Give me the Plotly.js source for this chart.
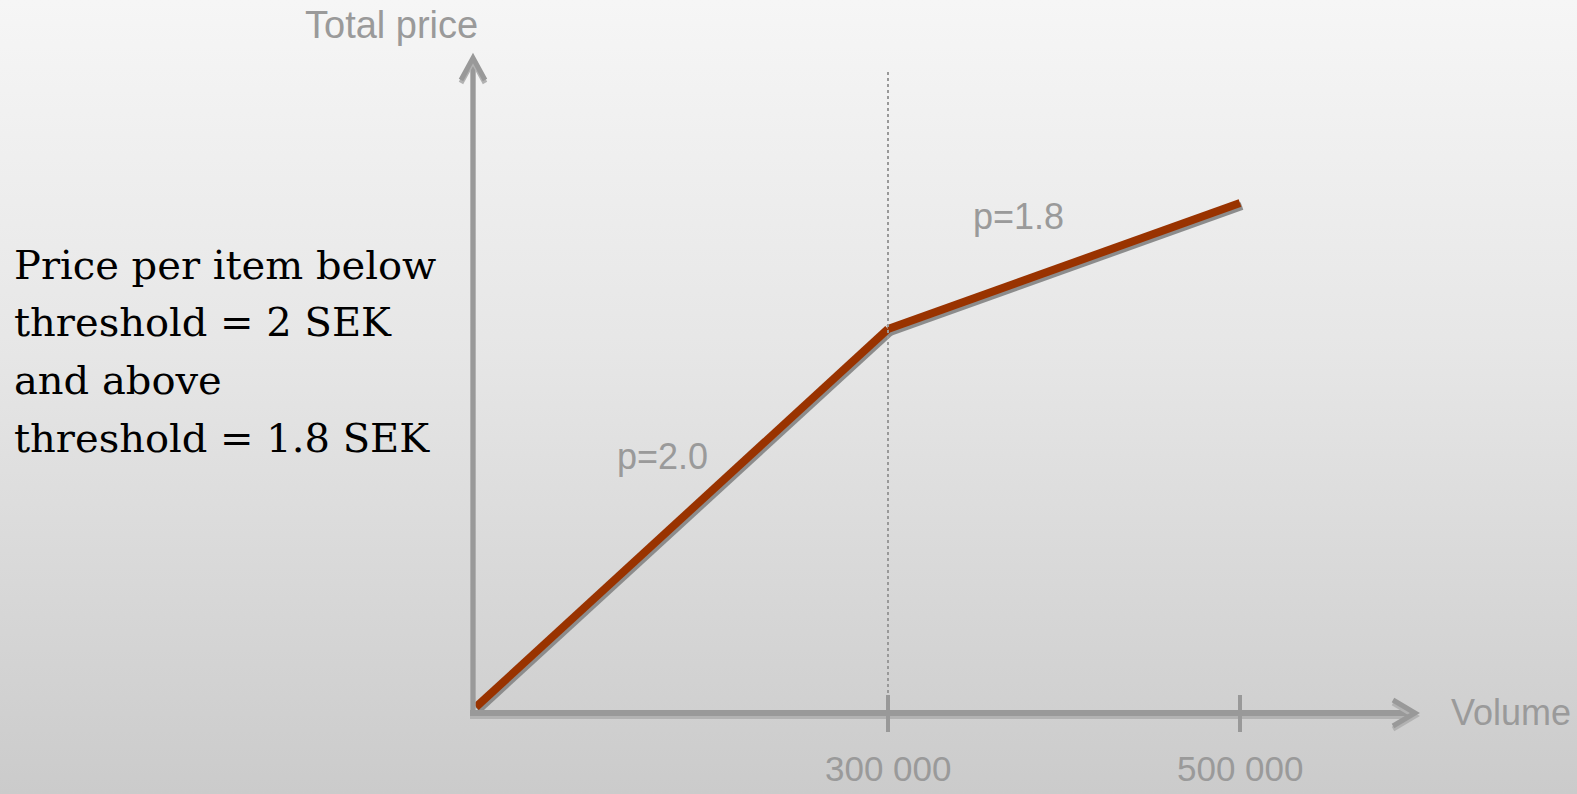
<!DOCTYPE html>
<html>
<head>
<meta charset="utf-8">
<script src="https://cdn.plot.ly/plotly-3.0.1.min.js"></script>
<style>
  html, body { margin: 0; padding: 0; }
  body {
    width: 1577px; height: 794px; overflow: hidden;
    background: linear-gradient(to bottom, #f6f6f6 0%, #e6e6e6 45%, #cbcbcb 100%);
  }
  #chart { width: 1577px; height: 794px; }
</style>
</head>
<body>
<div id="chart"></div>
<script>
// Volume-discount pricing: total price as a function of ordered volume.
const volume = [0, 300000, 500000];          // items
const totalPrice = [0, 600000, 960000];      // SEK
const unitPrice = [2.0, 1.8];                // SEK per item on each segment
const tickLabels = ['300 000', '500 000'];
const noteLines = [
  'Price per item below',
  'threshold = 2 SEK',
  'and above',
  'threshold = 1.8 SEK'
];

const W = 1577, H = 794;
const GRAY = '#999999';
const px = x => x / W;
const py = y => 1 - y / H;

// Each price segment gets its own axis pair so the two legs can be laid
// out with independent spacing (schematic, not to scale).
function xPiece(a0, a1, v0, v1, pad) {
  const k = (v1 - v0) / (a1 - a0);
  return { domain: [(a0 - pad) / W, (a1 + pad) / W], range: [v0 - pad * k, v1 + pad * k] };
}
function yPiece(a0, a1, v0, v1, pad) {
  const k = (v1 - v0) / (a0 - a1);
  return { domain: [1 - (a0 + pad) / H, 1 - (a1 - pad) / H], range: [v0 - pad * k, v1 + pad * k] };
}
const X1 = xPiece(476, 888, volume[0], volume[1], 14);
const X2 = xPiece(888, 1240, volume[1], volume[2], 14);
const Y1 = yPiece(707, 329, totalPrice[0], totalPrice[1], 14);
const Y2 = yPiece(329, 203, totalPrice[1], totalPrice[2], 14);

const hidden = { visible: false, fixedrange: true };

const lineStyle = { color: '#993300', width: 8 };
const traces = [
  { x: volume.slice(0, 2), y: totalPrice.slice(0, 2), xaxis: 'x', yaxis: 'y',
    mode: 'lines', line: lineStyle, hoverinfo: 'skip', showlegend: false },
  { x: volume.slice(1, 3), y: totalPrice.slice(1, 3), xaxis: 'x2', yaxis: 'y2',
    mode: 'lines', line: lineStyle, hoverinfo: 'skip', showlegend: false }
];

function pathPaper(points) {
  return points.map((p, i) => (i ? 'L ' : 'M ') + px(p[0]) + ' ' + py(p[1])).join(' ');
}

const shapes = [
  // vertical axis with arrow
  { type: 'line', xref: 'paper', yref: 'paper', x0: px(473), x1: px(473), y0: py(716), y1: py(60),
    line: { color: GRAY, width: 5 } },
  { type: 'path', xref: 'paper', yref: 'paper', path: pathPaper([[461, 80], [473, 58], [485, 80]]),
    line: { color: GRAY, width: 5 } },
  // horizontal axis with arrow
  { type: 'line', xref: 'paper', yref: 'paper', x0: px(470), x1: px(1411), y0: py(713), y1: py(713),
    line: { color: GRAY, width: 6 } },
  { type: 'path', xref: 'paper', yref: 'paper', path: pathPaper([[1393, 700], [1415, 713], [1393, 726]]),
    line: { color: GRAY, width: 5 } },
  // tick marks
  { type: 'line', xref: 'x', yref: 'paper', x0: volume[1], x1: volume[1], y0: py(695), y1: py(732),
    line: { color: GRAY, width: 4 } },
  { type: 'line', xref: 'x2', yref: 'paper', x0: volume[2], x1: volume[2], y0: py(695), y1: py(732),
    line: { color: GRAY, width: 4 } },
  // threshold marker
  { type: 'line', xref: 'x', yref: 'paper', x0: volume[1], x1: volume[1], y0: py(72), y1: py(712),
    line: { color: GRAY, width: 2, dash: 'dot' } }
];

const grayFont = size => ({ family: 'Liberation Sans, Arial, sans-serif', size: size, color: '#9a9a9a' });
const annotations = [
  { text: 'Total price', xref: 'paper', yref: 'paper', x: px(391), y: py(25),
    xanchor: 'center', yanchor: 'middle', showarrow: false, font: grayFont(38) },
  { text: 'Volume', xref: 'paper', yref: 'paper', x: px(1449), y: py(712),
    xanchor: 'left', yanchor: 'middle', showarrow: false, font: grayFont(36) },
  { text: 'p=' + unitPrice[0].toFixed(1), xref: 'paper', yref: 'paper', x: px(662), y: py(456),
    xanchor: 'center', yanchor: 'middle', showarrow: false, font: grayFont(36) },
  { text: 'p=' + unitPrice[1].toFixed(1), xref: 'paper', yref: 'paper', x: px(1018), y: py(216),
    xanchor: 'center', yanchor: 'middle', showarrow: false, font: grayFont(36) },
  { text: tickLabels[0], xref: 'x', yref: 'paper', x: volume[1], y: py(768),
    xanchor: 'center', yanchor: 'middle', showarrow: false, font: grayFont(35) },
  { text: tickLabels[1], xref: 'x2', yref: 'paper', x: volume[2], y: py(768),
    xanchor: 'center', yanchor: 'middle', showarrow: false, font: grayFont(35) }
];
const noteMid = [265, 322, 380, 438];
noteLines.forEach((t, i) => annotations.push({
  text: t, xref: 'paper', yref: 'paper', x: px(12), y: py(noteMid[i]),
  xanchor: 'left', yanchor: 'middle', showarrow: false,
  font: { family: 'DejaVu Serif, Liberation Serif, serif', size: 40, color: '#000000' }
}));

const layout = {
  width: W, height: H, autosize: false,
  margin: { l: 0, r: 0, t: 0, b: 0, pad: 0 },
  paper_bgcolor: 'rgba(0,0,0,0)', plot_bgcolor: 'rgba(0,0,0,0)',
  showlegend: false,
  xaxis: Object.assign({}, hidden, X1, { anchor: 'y' }),
  yaxis: Object.assign({}, hidden, Y1, { anchor: 'x' }),
  xaxis2: Object.assign({}, hidden, X2, { anchor: 'y2' }),
  yaxis2: Object.assign({}, hidden, Y2, { anchor: 'x2' }),
  shapes: shapes,
  annotations: annotations
};

Plotly.newPlot('chart', traces, layout, { staticPlot: true, displayModeBar: false }).then(gd => {
  // soft offset shadows under the price line and the axes
  gd.querySelectorAll('.scatterlayer path.js-line').forEach(p => {
    p.style.filter = 'drop-shadow(2px 3px 0px #8c8c8c)';
  });
  gd.querySelectorAll('.shapelayer path').forEach(p => {
    const idx = +p.getAttribute('data-index');
    if (idx <= 3) p.style.filter = 'drop-shadow(0px 3px 0px #b2b2b2)';
  });
});
</script>
</body>
</html>
